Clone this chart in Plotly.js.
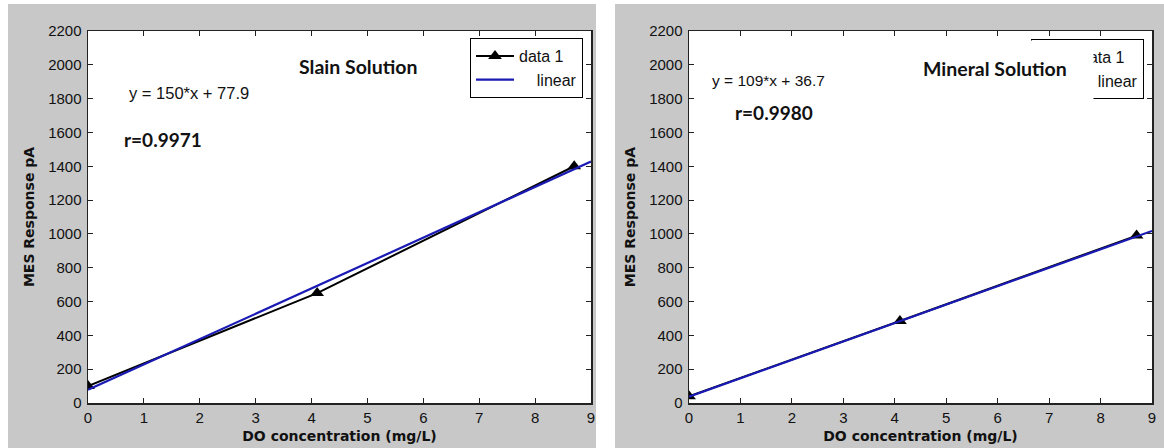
<!DOCTYPE html>
<html>
<head>
<meta charset="utf-8">
<script src="https://cdn.plot.ly/plotly-3.0.1.min.js"></script>
<style>html,body{margin:0;padding:0;background:#fff}#chart{width:1164px;height:448px}</style>
</head>
<body>
<div id="chart"></div>
<script>
// ---- data ----
const doConc = [0, 4.1, 8.7];                 // DO concentration (mg/L)
const slainResponse = [100, 650, 1400];       // MES response pA, Slain Solution
const mineralResponse = [40, 485, 990];       // MES response pA, Mineral Solution
const fitX = [0, 9];
const slainFitY = [77.9, 1427.9];             // y = 150*x + 77.9
const mineralFitY = [36.7, 1017.7];           // y = 109*x + 36.7
const xTicks = [0, 1, 2, 3, 4, 5, 6, 7, 8, 9];
const yTicks = [0, 200, 400, 600, 800, 1000, 1200, 1400, 1600, 1800, 2000, 2200];
const slainTitle = 'Slain Solution';
const mineralTitle = 'Mineral Solution';
const slainEq = 'y = 150*x + 77.9';
const mineralEq = 'y = 109*x + 36.7';
const slainR = 'r=0.9971';
const mineralR = 'r=0.9980';
const xLabel = 'DO concentration (mg/L)';
const yLabel = 'MES Response pA';
const seriesNames = ['data 1', '    linear'];

const W = 1164, H = 448;
const px = v => v / W, py = v => 1 - v / H;
const blue = '#1a1ab4';
const gray = '#c8c8c8';
const tickFont = {family: 'Liberation Sans, Arial, sans-serif', size: 15, color: '#111'};
const titleFont = {family: 'DejaVu Sans, sans-serif', size: 14, color: '#111'};

function xAxis(domain, anchor) {
  return {domain: domain, anchor: anchor, range: [0, 9], tickvals: xTicks, ticktext: xTicks.map(String),
    showline: true, mirror: 'ticks', linecolor: '#222', linewidth: 1.5, ticks: 'inside', ticklen: 5,
    tickcolor: '#222', showgrid: false, zeroline: false, tickfont: tickFont,
    title: {text: '<b>' + xLabel + '</b>', font: titleFont, standoff: 6}};
}
function yAxis(anchor) {
  return {domain: [py(403), py(31)], anchor: anchor, range: [0, 2200], tickvals: yTicks, ticktext: yTicks.map(String),
    showline: true, mirror: 'ticks', linecolor: '#222', linewidth: 1.5, ticks: 'inside', ticklen: 5,
    tickcolor: '#222', showgrid: false, zeroline: false, tickfont: tickFont, ticklabelstandoff: 2,
    title: {text: '<b>' + yLabel + '</b>', font: titleFont, standoff: 10}};
}

const traces = [
  {x: doConc, y: slainResponse, xaxis: 'x', yaxis: 'y', mode: 'lines+markers', name: seriesNames[0],
   line: {color: '#000', width: 2}, marker: {symbol: 'triangle-up', size: 12, color: '#000'}, legend: 'legend'},
  {x: fitX, y: slainFitY, xaxis: 'x', yaxis: 'y', mode: 'lines', name: seriesNames[1],
   line: {color: blue, width: 2.2}, legend: 'legend'},
  {x: doConc, y: mineralResponse, xaxis: 'x2', yaxis: 'y2', mode: 'lines+markers', name: seriesNames[0],
   line: {color: '#000', width: 2}, marker: {symbol: 'triangle-up', size: 12, color: '#000'}, legend: 'legend2'},
  {x: fitX, y: mineralFitY, xaxis: 'x2', yaxis: 'y2', mode: 'lines', name: seriesNames[1],
   line: {color: blue, width: 2.2}, legend: 'legend2'}
];

const legendFont = {family: 'Liberation Sans, Arial, sans-serif', size: 16, color: '#111'};
const textFont = (size, fam) => ({family: fam, size: size, color: '#111'});
const LATO = 'Lato, sans-serif', ARIAL = 'Liberation Sans, Arial, sans-serif';
const layout = {
  width: W, height: H, margin: {l: 0, r: 0, t: 0, b: 0},
  paper_bgcolor: gray, plot_bgcolor: '#fff', showlegend: true,
  xaxis: xAxis([px(88), px(591)], 'y'),
  yaxis: yAxis('x'),
  xaxis2: xAxis([px(689), px(1152)], 'y2'),
  yaxis2: yAxis('x2'),
  legend: {x: px(583), xanchor: 'right', y: py(38), yanchor: 'top', bgcolor: '#fff', bordercolor: '#000',
    borderwidth: 1, font: legendFont, tracegroupgap: 0, itemwidth: 38},
  legend2: {x: px(1144), xanchor: 'right', y: py(39), yanchor: 'top', bgcolor: '#fff', bordercolor: '#000',
    borderwidth: 1, font: legendFont, tracegroupgap: 0, itemwidth: 38},
  shapes: [
    // white page strips around the two grey figure panels
    {type: 'rect', xref: 'paper', yref: 'paper', x0: 0, x1: px(8), y0: 0, y1: 1, fillcolor: '#fff', line: {width: 0}, layer: 'below'},
    {type: 'rect', xref: 'paper', yref: 'paper', x0: px(596), x1: px(615), y0: 0, y1: 1, fillcolor: '#fff', line: {width: 0}, layer: 'below'},
    {type: 'rect', xref: 'paper', yref: 'paper', x0: 0, x1: 1, y0: py(4), y1: 1, fillcolor: '#fff', line: {width: 0}, layer: 'below'}
  ],
  annotations: [
    {xref: 'paper', yref: 'paper', x: px(297), y: py(67), xanchor: 'left', yanchor: 'middle', showarrow: false,
     text: '<b>' + slainTitle + '</b>', font: textFont(19.5, LATO)},
    {xref: 'paper', yref: 'paper', x: px(127), y: py(93), xanchor: 'left', yanchor: 'middle', showarrow: false,
     text: slainEq, font: textFont(16.5, ARIAL)},
    {xref: 'paper', yref: 'paper', x: px(122), y: py(139), xanchor: 'left', yanchor: 'middle', showarrow: false,
     text: '<b>' + slainR + '</b>', font: textFont(19, LATO)},
    {xref: 'paper', yref: 'paper', x: px(710), y: py(80), xanchor: 'left', yanchor: 'middle', showarrow: false,
     text: mineralEq, font: textFont(15.5, ARIAL)},
    {xref: 'paper', yref: 'paper', x: px(733), y: py(113), xanchor: 'left', yanchor: 'middle', showarrow: false,
     text: '<b>' + mineralR + '</b>', font: textFont(19, LATO)},
    // white text box that hides the left part of the right-hand legend, as in the reference
    {xref: 'paper', yref: 'paper', x: px(1056.5), y: py(72), xanchor: 'center', yanchor: 'middle', showarrow: false,
     text: '&nbsp;', bgcolor: '#fff', width: 73, height: 62, borderpad: 0},
    {xref: 'paper', yref: 'paper', x: px(994.5), y: py(68), xanchor: 'center', yanchor: 'middle', showarrow: false,
     text: '<b>' + mineralTitle + '</b>', font: textFont(19.5, LATO)}
  ]
};

Plotly.newPlot('chart', traces, layout, {staticPlot: true, displayModeBar: false});
</script>
</body>
</html>
